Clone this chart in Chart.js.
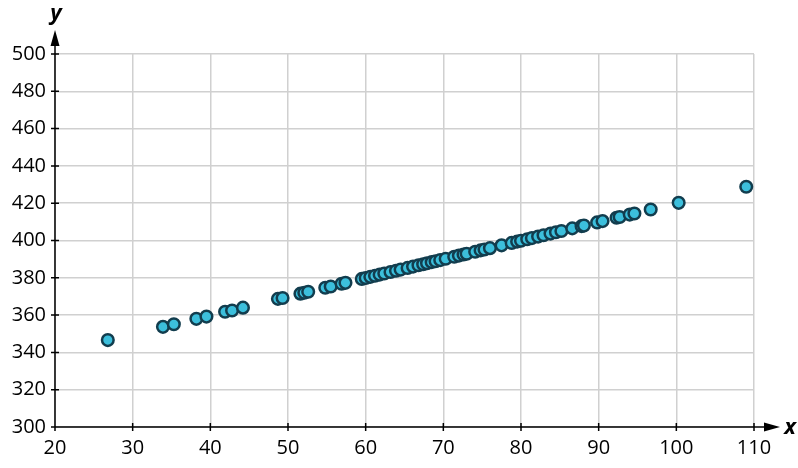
<!DOCTYPE html>
<html>
<head>
<meta charset="utf-8">
<script src="https://cdn.jsdelivr.net/npm/chart.js@4.4.0/dist/chart.umd.min.js"></script>
<style>
  html, body { margin: 0; padding: 0; background: #fff; }
  #wrap { width: 798px; height: 468px; position: relative; }
</style>
</head>
<body>
<div id="wrap"><canvas id="chart"></canvas></div>
<script>
// Data
const xValues = [26.8, 33.9, 35.3, 38.2, 39.5, 41.9, 42.8, 44.2, 48.7, 49.3,
  51.6, 52.1, 52.6, 54.8, 55.5, 56.9, 57.4, 59.5, 60.0, 60.6,
  61.2, 61.8, 62.4, 63.2, 63.9, 64.5, 65.4, 66.1, 66.8, 67.4,
  67.9, 68.5, 69.0, 69.6, 70.3, 71.4, 72.0, 72.6, 73.0, 74.1,
  74.8, 75.3, 76.0, 77.5, 78.8, 79.5, 80.0, 80.8, 81.4, 82.2,
  82.9, 83.8, 84.5, 85.2, 86.6, 87.8, 88.1, 89.8, 90.5, 92.3,
  92.7, 94.0, 94.6, 96.7, 100.3, 109.0];
const yValues = [346.6, 353.7, 355.1, 358.0, 359.2, 361.8, 362.5, 364.0, 368.7, 369.2,
  371.5, 372.0, 372.5, 374.7, 375.3, 376.8, 377.3, 379.4, 379.9, 380.5,
  381.1, 381.7, 382.3, 383.1, 383.8, 384.4, 385.3, 386.0, 386.7, 387.3,
  387.8, 388.4, 388.9, 389.5, 390.2, 391.3, 391.9, 392.5, 392.9, 394.0,
  394.7, 395.2, 395.9, 397.4, 398.7, 399.4, 399.9, 400.7, 401.3, 402.1,
  402.8, 403.7, 404.4, 405.1, 406.5, 407.7, 408.0, 409.7, 410.4, 412.2,
  412.6, 413.9, 414.5, 416.6, 420.2, 428.8];
const xTicks = [20, 30, 40, 50, 60, 70, 80, 90, 100, 110];
const yTicks = [300, 320, 340, 360, 380, 400, 420, 440, 460, 480, 500];

const fontFamily = "'Open Sans', 'Noto Sans', sans-serif";

// Axes with arrows, tick marks and axis letters
const axesPlugin = {
  id: 'axes',
  afterDatasetsDraw(chart) {
    const ctx = chart.ctx;
    const xs = chart.scales.x, ys = chart.scales.y;
    const x0 = xs.getPixelForValue(20);
    const y0 = ys.getPixelForValue(300);
    ctx.save();
    ctx.strokeStyle = '#000';
    ctx.fillStyle = '#000';
    ctx.lineWidth = 1.5;
    ctx.beginPath();
    ctx.moveTo(x0, y0);
    ctx.lineTo(x0, 40);
    ctx.moveTo(x0, y0);
    ctx.lineTo(772, y0);
    xTicks.forEach(v => {
      const p = xs.getPixelForValue(v);
      ctx.moveTo(p, y0 - 4);
      ctx.lineTo(p, y0 + 4);
    });
    yTicks.forEach(v => {
      const p = ys.getPixelForValue(v);
      ctx.moveTo(x0 - 4, p);
      ctx.lineTo(x0 + 4, p);
    });
    ctx.stroke();
    // arrowheads
    ctx.beginPath();
    ctx.moveTo(x0, 30);
    ctx.lineTo(x0 - 4.5, 46);
    ctx.lineTo(x0 + 4.5, 46);
    ctx.closePath();
    ctx.fill();
    ctx.beginPath();
    ctx.moveTo(780, y0);
    ctx.lineTo(764, y0 - 4.5);
    ctx.lineTo(764, y0 + 4.5);
    ctx.closePath();
    ctx.fill();
    // axis letters
    ctx.font = "italic bold 22px " + fontFamily;
    ctx.textAlign = 'center';
    ctx.textBaseline = 'middle';
    ctx.fillText('y', x0 + 1, 14);
    ctx.fillText('x', 790, y0 + 1);
    ctx.restore();
  }
};

const points = xValues.map((x, i) => ({ x: x, y: yValues[i] }));

new Chart(document.getElementById('chart').getContext('2d'), {
  type: 'scatter',
  data: {
    datasets: [{
      data: points,
      backgroundColor: '#3cbfdc',
      borderColor: '#123d4e',
      borderWidth: 2.5,
      pointRadius: 5.8,
      pointHoverRadius: 5.8
    }]
  },
  options: {
    responsive: true,
    maintainAspectRatio: false,
    animation: false,
    layout: { padding: { left: 0, right: 44, top: 54, bottom: 0 } },
    plugins: {
      legend: { display: false },
      tooltip: { enabled: false }
    },
    scales: {
      x: {
        type: 'linear',
        min: 20,
        max: 110,
        afterFit: function(scale) { scale.height = 41; },
        afterBuildTicks: function(scale) {
          scale.ticks = xTicks.map(v => ({ value: v }));
        },
        grid: { color: '#d0d0d0', lineWidth: 1.5, drawTicks: false },
        border: { display: false },
        ticks: {
          color: '#000',
          padding: 9,
          maxRotation: 0,
          font: { family: fontFamily, size: 20 }
        }
      },
      y: {
        type: 'linear',
        min: 300,
        max: 500,
        afterFit: function(scale) { scale.width = 55; },
        afterBuildTicks: function(scale) {
          scale.ticks = yTicks.map(v => ({ value: v }));
        },
        grid: { color: '#d0d0d0', lineWidth: 1.5, drawTicks: false },
        border: { display: false },
        ticks: {
          color: '#000',
          padding: 9,
          font: { family: fontFamily, size: 20 }
        }
      }
    }
  },
  plugins: [axesPlugin]
});
</script>
</body>
</html>
